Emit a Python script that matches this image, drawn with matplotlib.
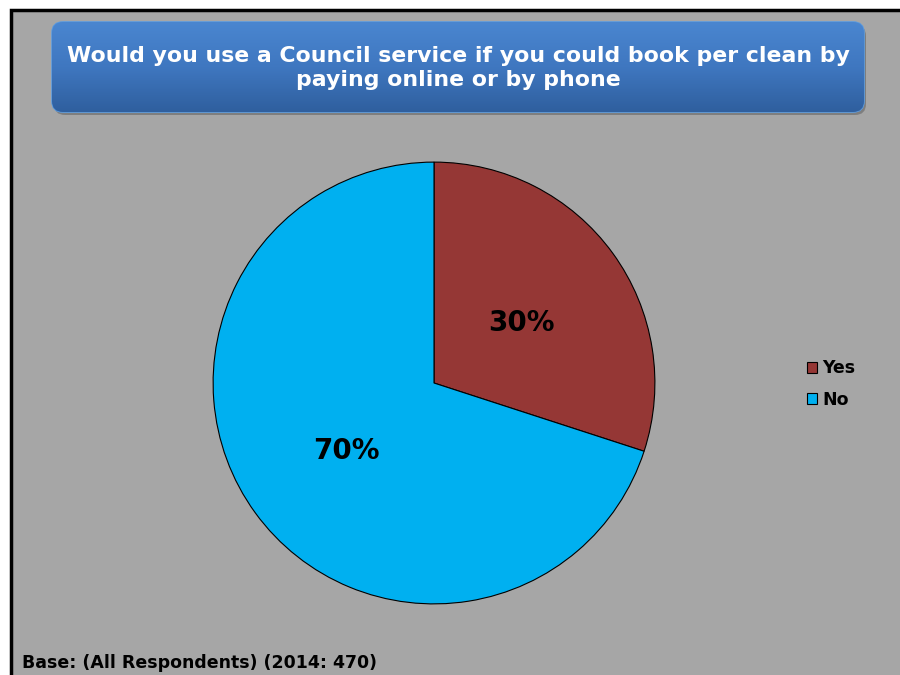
import numpy as np
import matplotlib
matplotlib.use('Agg')
import matplotlib.pyplot as plt
import matplotlib.patches as patches

# data
categories = ['Yes', 'No']
values = [30, 70]
colors = ['#953735', '#00B0F0']
title = 'Would you use a Council service if you could book per clean by\npaying online or by phone'
base_note = 'Base: (All Respondents) (2014: 470)'

W, H = 900, 675
fig = plt.figure(figsize=(9, 6.75), dpi=100)
fig.patch.set_facecolor('white')

# background axes in pixel coordinates
bg = fig.add_axes([0, 0, 1, 1])
bg.set_xlim(0, W)
bg.set_ylim(H, 0)
bg.axis('off')

bg.add_patch(patches.Rectangle((11, 10), 900, 700, facecolor='#A6A6A6',
                               edgecolor='black', lw=2.5))

# title box with shadow + gradient
bg.add_patch(patches.FancyBboxPatch((54, 25), 812, 90, boxstyle='round,pad=0,rounding_size=11',
                                    facecolor='#6E6E6E', edgecolor='none', alpha=0.7))
box = patches.FancyBboxPatch((52, 22), 812, 90, boxstyle='round,pad=0,rounding_size=11',
                             facecolor='none', edgecolor='#5B9BE0', lw=1.2)
bg.add_patch(box)
grad = np.linspace(0, 1, 256).reshape(-1, 1)
cmap = matplotlib.colors.LinearSegmentedColormap.from_list('tb', ['#4A86D0', '#3F77C0', '#2F5F9E'])
im = bg.imshow(grad, extent=(52, 864, 112, 22), cmap=cmap, aspect='auto', zorder=1)
im.set_clip_path(box)
bg.text(458, 68, title, ha='center', va='center', color='white', fontsize=15.8,
        fontweight='bold', linespacing=1.3, zorder=3)

bg.text(22, 663, base_note, ha='left', va='center', fontsize=12.5, fontweight='bold')

# pie
ax = fig.add_axes([212 / W, (H - 605) / H, 444 / W, 444 / H])
wedges, texts, autotexts = ax.pie(values, colors=colors, startangle=90, counterclock=False,
                                  autopct='%1.0f%%', pctdistance=0.49,
                                  wedgeprops=dict(edgecolor='black', linewidth=0.8),
                                  textprops=dict(fontsize=20, fontweight='bold', color='black'))
for t in autotexts:
    x, y = t.get_position()
    t.set_position((x, y - 0.018))
ax.set_xlim(-1.005, 1.005)
ax.set_ylim(-1.005, 1.005)
ax.set_aspect('equal')

fig.legend(wedges, categories, loc='center left', bbox_to_anchor=(791 / W, 1 - 384 / H),
           frameon=False, handlelength=0.6, handleheight=0.6, handletextpad=0.3,
           labelspacing=0.75, prop=dict(size=12.5, weight='bold'))

fig.savefig('out.png', dpi=100, facecolor='white')
